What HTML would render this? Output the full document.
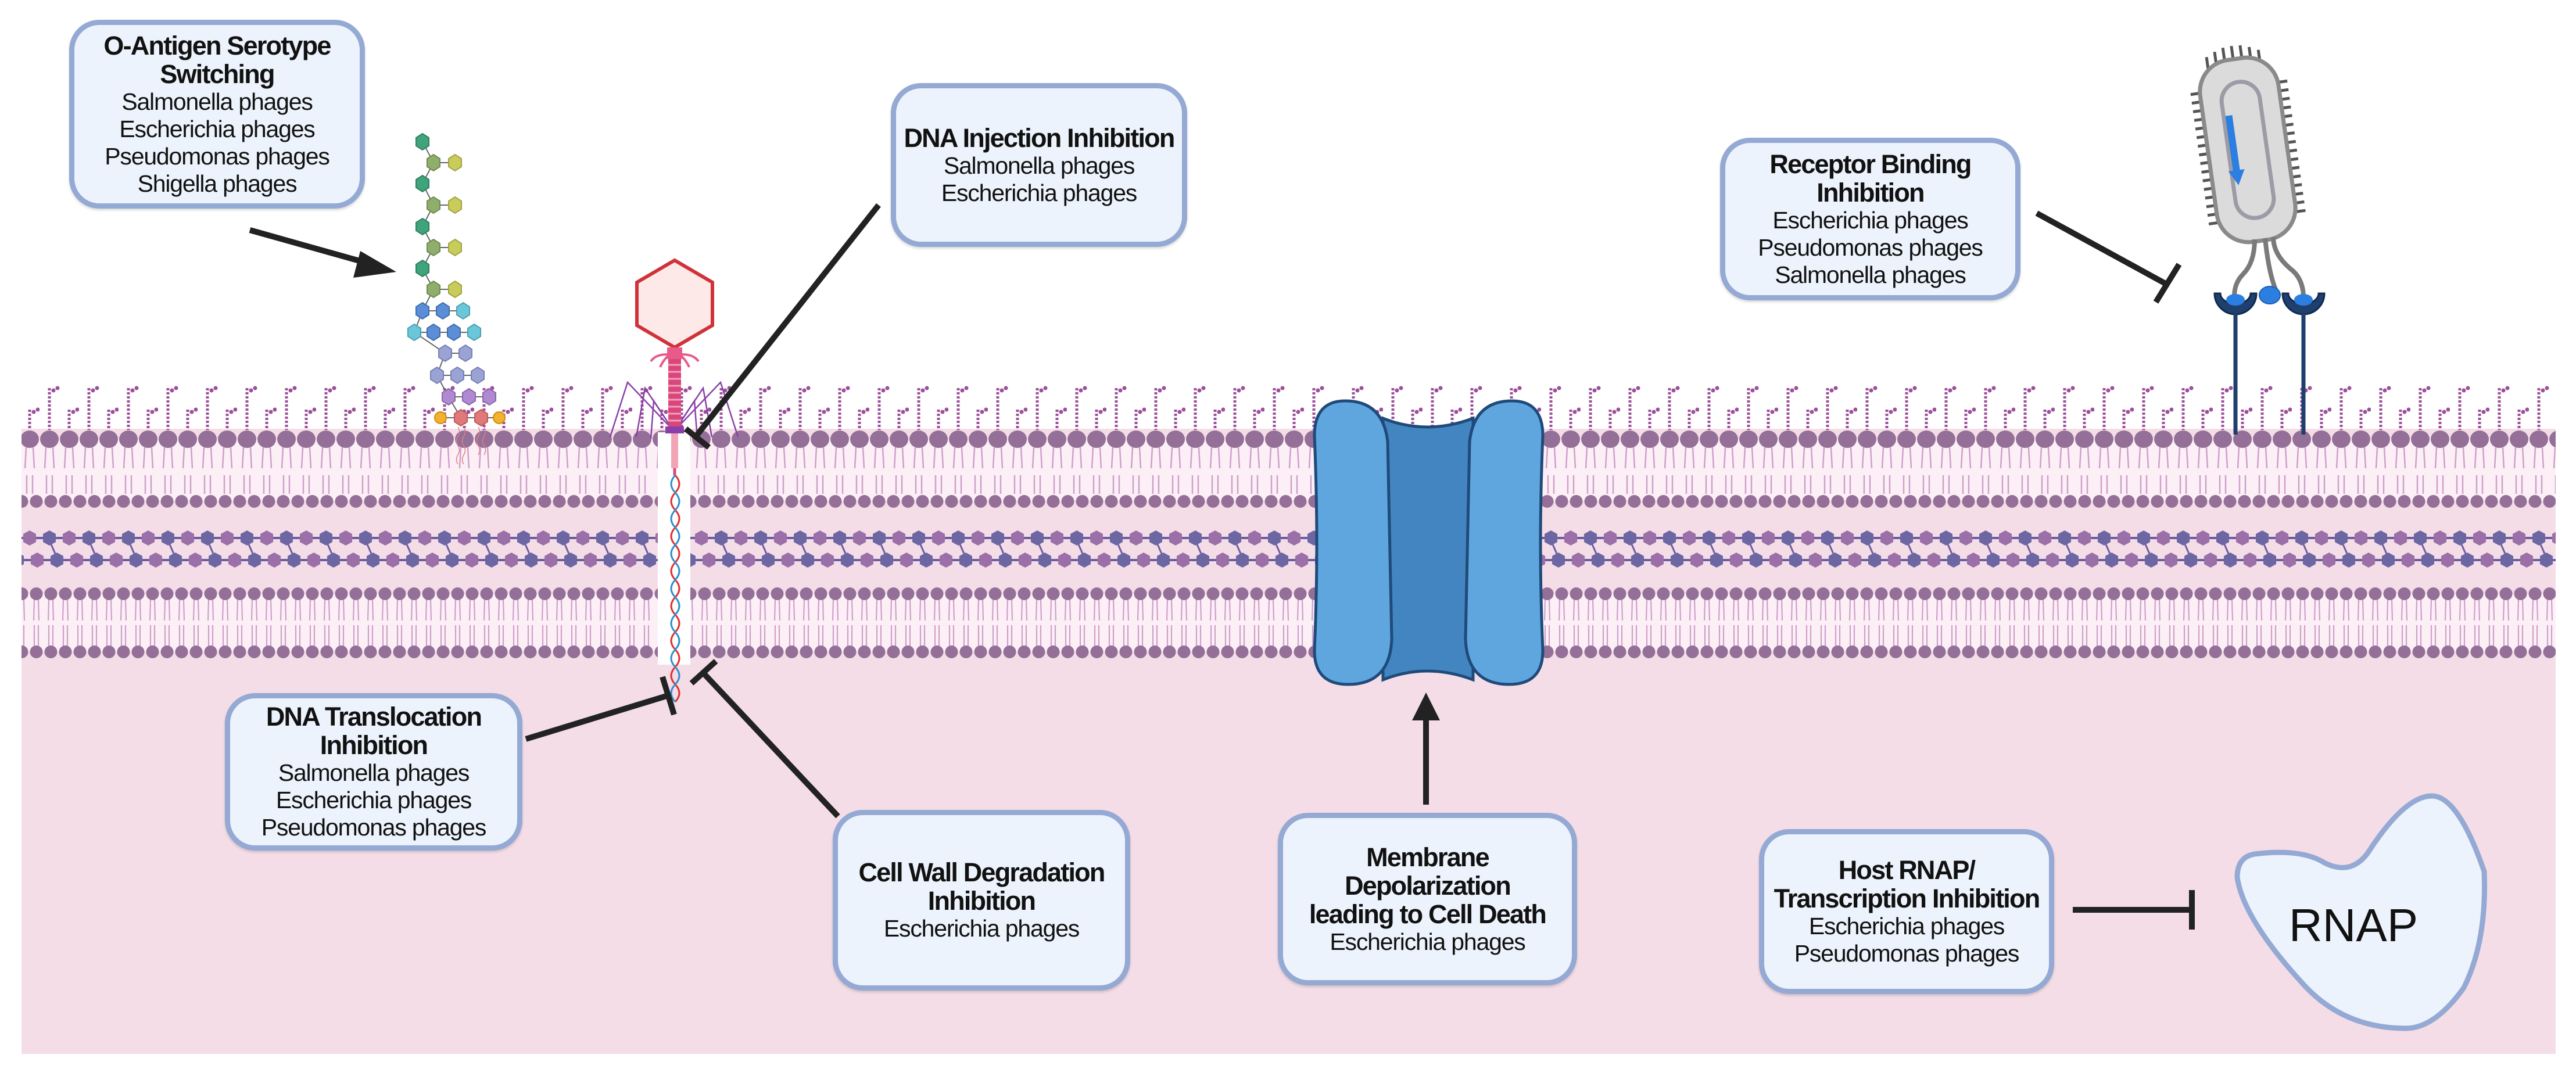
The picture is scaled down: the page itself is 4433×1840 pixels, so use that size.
<!DOCTYPE html>
<html><head><meta charset="utf-8"><style>
html,body{margin:0;padding:0;background:#fff;}
body{width:4433px;height:1840px;position:relative;overflow:hidden;font-family:"Liberation Sans",sans-serif;}
svg{position:absolute;left:0;top:0;}
.box{position:absolute;box-sizing:border-box;border:9px solid #94a9d3;background:#edf3fc;border-radius:52px;display:flex;flex-direction:column;justify-content:center;align-items:center;text-align:center;color:#111;box-shadow:0 3px 4px rgba(0,0,0,0.15);}
.t{font-weight:bold;font-size:45px;line-height:49px;letter-spacing:-1.8px;}
.s{font-size:41px;line-height:47px;letter-spacing:-1.2px;}
</style></head><body>
<svg width="4433" height="1840" viewBox="0 0 4433 1840" xmlns="http://www.w3.org/2000/svg">
<defs>
<pattern id="lps" x="0" y="0" width="68" height="1840" patternUnits="userSpaceOnUse">
 <line x1="17" y1="668" x2="17" y2="740" stroke="#9c4f9a" stroke-width="5" stroke-dasharray="4 3"/>
 <circle cx="24" cy="672" r="3.5" fill="#9c4f9a"/><circle cx="31" cy="668" r="3.5" fill="#9c4f9a"/>
 <line x1="51" y1="705" x2="51" y2="740" stroke="#9c4f9a" stroke-width="5" stroke-dasharray="4 3"/>
 <circle cx="58" cy="709" r="3.5" fill="#9c4f9a"/><circle cx="65" cy="705" r="3.5" fill="#9c4f9a"/>
</pattern>
<pattern id="omt" x="0" y="0" width="34" height="1840" patternUnits="userSpaceOnUse">
 <path d="M11 770 L9 806 M23 770 L25 806 M12 818 L12 850 M22 818 L22 850" stroke="#cf9fcb" stroke-width="2.5" fill="none"/>
 <ellipse cx="17" cy="756" rx="16" ry="15" fill="#946f97"/>
</pattern>
<pattern id="omb" x="0" y="0" width="25" height="1840" patternUnits="userSpaceOnUse">
 <circle cx="12.5" cy="863" r="11" fill="#946f97"/>
</pattern>
<pattern id="imt" x="0" y="0" width="25" height="1840" patternUnits="userSpaceOnUse">
 <path d="M9 1032 L8 1068 M16 1032 L17 1068 M9 1076 L9 1112 M16 1076 L16 1112" stroke="#cf9fcb" stroke-width="2.2" fill="none"/>
 <circle cx="12.5" cy="1022" r="11" fill="#946f97"/>
 <circle cx="12.5" cy="1122" r="11" fill="#946f97"/>
</pattern>
<pattern id="pg" x="0" y="0" width="68" height="1840" patternUnits="userSpaceOnUse">
 <line x1="0" y1="926" x2="68" y2="926" stroke="#6c5ea0" stroke-width="4"/>
 <line x1="0" y1="964" x2="68" y2="964" stroke="#6c5ea0" stroke-width="4"/>
 <line x1="17" y1="930" x2="30" y2="960" stroke="#6c5ea0" stroke-width="3"/>
 <polygon points="17,913 28,919 28,933 17,939 6,933 6,919" fill="#6c66a3"/>
 <polygon points="51,913 62,919 62,933 51,939 40,933 40,919" fill="#9b6fa8"/>
 <polygon points="30,951 41,957 41,971 30,977 19,971 19,957" fill="#6c66a3"/>
 <polygon points="64,951 75,957 75,971 64,977 53,971 53,957" fill="#9b6fa8"/>
 <polygon points="-4,951 7,957 7,971 -4,977 -15,971 -15,957" fill="#9b6fa8"/>
</pattern>
</defs>
<rect x="37" y="738" width="4361" height="1076" fill="#f4dde7"/>
<rect x="37" y="660" width="4361" height="82" fill="url(#lps)"/>
<rect x="37" y="756" width="4361" height="107" fill="#fcf0f6"/>
<rect x="37" y="1022" width="4361" height="100" fill="#fcf0f6"/>
<rect x="37" y="735" width="4361" height="120" fill="url(#omt)"/>
<rect x="37" y="850" width="4361" height="26" fill="url(#omb)"/>
<rect x="37" y="905" width="4361" height="80" fill="url(#pg)"/>
<rect x="37" y="1008" width="4361" height="128" fill="url(#imt)"/>
<rect x="1132" y="744" width="56" height="400" fill="#fff"/>
<g stroke="#666" stroke-width="2" fill="none">
<path d="M727 244 L746 280 L727 316 L746 353 L727 390 L746 426 L727 462 L746 498 L727 535 L713 572 L766 608 L752 646 L772 683 L793 719"/>
<path d="M746 280 H783 M746 353 H783 M746 426 H783 M746 498 H783 M727 535 H797 M713 572 H816 M766 608 H801 M752 646 H822 M772 683 H842 M758 719 H859"/>
</g>
<g stroke-width="2">
<g fill="#3fa37b" stroke="#2f8060">
<polygon points="727,230 738,237 738,251 727,258 716,251 716,237"/>
<polygon points="727,302 738,309 738,323 727,330 716,323 716,309"/>
<polygon points="727,376 738,383 738,397 727,404 716,397 716,383"/>
<polygon points="727,448 738,455 738,469 727,476 716,469 716,455"/>
</g>
<g fill="#8fae6c" stroke="#6f8a50">
<polygon points="746,266 757,273 757,287 746,294 735,287 735,273"/>
<polygon points="746,339 757,346 757,360 746,367 735,360 735,346"/>
<polygon points="746,412 757,419 757,433 746,440 735,433 735,419"/>
<polygon points="746,484 757,491 757,505 746,512 735,505 735,491"/>
</g>
<g fill="#c8cc5a" stroke="#a0a440">
<polygon points="783,266 794,273 794,287 783,294 772,287 772,273"/>
<polygon points="783,339 794,346 794,360 783,367 772,360 772,346"/>
<polygon points="783,412 794,419 794,433 783,440 772,433 772,419"/>
<polygon points="783,484 794,491 794,505 783,512 772,505 772,491"/>
</g>
<g fill="#5b8ed6" stroke="#3f6db0">
<polygon points="727,521 738,528 738,542 727,549 716,542 716,528"/>
<polygon points="762,521 773,528 773,542 762,549 751,542 751,528"/>
<polygon points="746,558 757,565 757,579 746,586 735,579 735,565"/>
<polygon points="781,558 792,565 792,579 781,586 770,579 770,565"/>
</g>
<g fill="#6cc6d9" stroke="#4aa0b3">
<polygon points="797,521 808,528 808,542 797,549 786,542 786,528"/>
<polygon points="713,558 724,565 724,579 713,586 702,579 702,565"/>
<polygon points="816,558 827,565 827,579 816,586 805,579 805,565"/>
</g>
<g fill="#9aa3d4" stroke="#7680b5">
<polygon points="766,594 777,601 777,615 766,622 755,615 755,601"/>
<polygon points="801,594 812,601 812,615 801,622 790,615 790,601"/>
<polygon points="752,632 763,639 763,653 752,660 741,653 741,639"/>
<polygon points="787,632 798,639 798,653 787,660 776,653 776,639"/>
<polygon points="822,632 833,639 833,653 822,660 811,653 811,639"/>
</g>
<g fill="#b08ad0" stroke="#8a66ad">
<polygon points="772,669 783,676 783,690 772,697 761,690 761,676"/>
<polygon points="807,669 818,676 818,690 807,697 796,690 796,676"/>
<polygon points="842,669 853,676 853,690 842,697 831,690 831,676"/>
</g>
<g fill="#e07a7a" stroke="#c05a5a">
<polygon points="793,705 804,712 804,726 793,733 782,726 782,712"/>
<polygon points="828,705 839,712 839,726 828,733 817,726 817,712"/>
</g>
<circle cx="758" cy="719" r="10" fill="#f2b12e" stroke="#d08a10"/>
<circle cx="859" cy="719" r="10" fill="#f2b12e" stroke="#d08a10"/>
</g>
<path d="M788 735 q5 8 0 16 t0 16 t0 16 t0 16 M798 735 q5 8 0 16 t0 16 t0 16 t0 16 M823 735 q5 8 0 16 t0 16 t0 16 M833 735 q5 8 0 16 t0 16 t0 16" stroke="#e08080" stroke-width="1.5" fill="none"/>
<g>
<path d="M1158 740 L1080 658 L1050 752 M1158 740 L1110 668 L1095 752 M1158 740 L1125 690 L1120 755 M1162 740 L1240 658 L1270 752 M1162 740 L1210 668 L1225 752 M1162 740 L1195 690 L1200 755" stroke="#8a3fa8" stroke-width="2.5" fill="none"/>
<polygon points="1161,448 1226,486 1226,560 1161,598 1096,560 1096,486" fill="#fde9e8" stroke="#d0323a" stroke-width="6"/>
<rect x="1148" y="598" width="26" height="20" fill="#e85a8a"/>
<path d="M1148 610 q-20 0 -28 12 M1174 610 q20 0 28 12 M1150 612 q-10 10 -14 20 M1172 612 q10 10 14 20" stroke="#e85a8a" stroke-width="4" fill="none"/>
<rect x="1150" y="618" width="22" height="118" fill="#d9467a"/>
<path d="M1150 628 H1172 M1150 640 H1172 M1150 652 H1172 M1150 664 H1172 M1150 676 H1172 M1150 688 H1172 M1150 700 H1172 M1150 712 H1172 M1150 724 H1172" stroke="#f4a0c0" stroke-width="3"/>
<rect x="1145" y="734" width="32" height="12" fill="#8a3fa8"/>
<rect x="1155" y="746" width="12" height="60" fill="#f0a4b6"/>
<path d="M1161 806 l0 12" stroke="#d9467a" stroke-width="5"/>
<path d="M1158 818 q14 15 0 30 t0 30 t0 30 t0 30 t0 30 t0 30 t0 30 t0 30 t0 30 t0 30 t0 30 t0 30 t0 30" stroke="#e03030" stroke-width="3" fill="none" transform="translate(4,0)"/>
<path d="M1158 818 q-14 15 0 30 t0 30 t0 30 t0 30 t0 30 t0 30 t0 30 t0 30 t0 30 t0 30 t0 30 t0 30 t0 30" stroke="#2f8fce" stroke-width="3" fill="none" transform="translate(4,0)"/>
</g>
<g stroke="#1f4a7a" stroke-width="5">
<path d="M2380 720 Q2455 750 2535 720 L2535 1170 Q2455 1140 2380 1170 Z" fill="#4285c0"/>
<path d="M2315 690 Q2380 690 2388 760 L2395 1100 Q2392 1178 2320 1178 Q2262 1178 2262 1120 Q2270 940 2262 750 Q2262 690 2315 690 Z" fill="#5fa6df"/>
<path d="M2602 690 Q2537 690 2529 760 L2522 1100 Q2525 1178 2597 1178 Q2655 1178 2655 1120 Q2647 940 2655 750 Q2655 690 2602 690 Z" fill="#5fa6df"/>
</g>
<g transform="rotate(-8 3868 258)">
<g stroke="#555" stroke-width="5">
<path d="M3800 150 h-16 M3800 165 h-16 M3800 180 h-16 M3800 195 h-16 M3800 210 h-16 M3800 225 h-16 M3800 240 h-16 M3800 255 h-16 M3800 270 h-16 M3800 285 h-16 M3800 300 h-16 M3800 315 h-16 M3800 330 h-16 M3800 345 h-16 M3800 360 h-16 M3800 375 h-16"/>
<path d="M3936 150 h16 M3936 165 h16 M3936 180 h16 M3936 195 h16 M3936 210 h16 M3936 225 h16 M3936 240 h16 M3936 255 h16 M3936 270 h16 M3936 285 h16 M3936 300 h16 M3936 315 h16 M3936 330 h16 M3936 345 h16 M3936 360 h16 M3936 375 h16"/>
<path d="M3820 110 v-20 M3835 105 v-22 M3850 102 v-24 M3865 101 v-24 M3880 102 v-24 M3895 105 v-22 M3910 110 v-20"/>
</g>
<rect x="3800" y="100" width="136" height="316" rx="55" fill="#dcdbdc" stroke="#8a8a8a" stroke-width="7"/>
<rect x="3835" y="140" width="66" height="236" rx="33" fill="none" stroke="#9d9ca6" stroke-width="7"/>
<polygon points="3838,195 3850,195 3850,290 3858,290 3844,316 3830,290 3838,290" fill="#2a7fe0"/>
</g>
<path d="M3880 412 q0 40 -20 60 q-15 15 -15 38 M3898 410 q5 50 15 80 q5 15 10 20 M3912 408 q0 30 30 55 q20 15 22 45" stroke="#7a7a7a" stroke-width="8" fill="none"/>
<g fill="#1f3f6e" stroke="#102b50" stroke-width="3">
<path d="M3811 505 a36 36 0 0 0 72 0 l-10 0 a26 18 0 0 1 -52 0 z"/>
<path d="M3928 505 a36 36 0 0 0 72 0 l-10 0 a26 18 0 0 1 -52 0 z"/>
</g>
<ellipse cx="3847" cy="516" rx="16" ry="10" fill="#2a7fe0"/>
<ellipse cx="3964" cy="516" rx="16" ry="10" fill="#2a7fe0"/>
<ellipse cx="3906" cy="508" rx="18" ry="15" fill="#2a7fe0" stroke="#1f5fb0" stroke-width="2"/>
<path d="M3847 540 V748 M3964 540 V748" stroke="#1f3f6e" stroke-width="7"/>
<path d="M3880 1470 Q3960 1460 4000 1485 Q4050 1510 4080 1460 Q4140 1370 4185 1370 Q4230 1370 4275 1500 Q4280 1620 4240 1700 Q4190 1770 4140 1770 Q4030 1770 3960 1690 Q3860 1580 3850 1510 Q3850 1475 3880 1470 Z" fill="#edf3fc" stroke="#94a9d3" stroke-width="9"/>
<text x="4050" y="1620" font-family="Liberation Sans, sans-serif" font-size="80" text-anchor="middle" fill="#111">RNAP</text>
<g stroke="#222" stroke-width="10" fill="none">
<line x1="430" y1="396" x2="640" y2="455"/>
<line x1="1512" y1="353" x2="1200" y2="748"/>
<line x1="1180" y1="738" x2="1220" y2="770"/>
<line x1="3505" y1="367" x2="3730" y2="490"/>
<line x1="3710" y1="520" x2="3750" y2="455"/>
<line x1="905" y1="1272" x2="1150" y2="1197"/>
<line x1="1140" y1="1165" x2="1160" y2="1230"/>
<line x1="1442" y1="1405" x2="1210" y2="1158"/>
<line x1="1190" y1="1176" x2="1232" y2="1138"/>
<line x1="2454" y1="1385" x2="2454" y2="1230"/>
<line x1="3567" y1="1566" x2="3772" y2="1566"/>
<line x1="3772" y1="1532" x2="3772" y2="1600"/>
</g>
<polygon points="682,468 620,432 608,478" fill="#222"/>
<polygon points="2454,1192 2430,1240 2478,1240" fill="#222"/>
</svg>

<div class="box" style="left:119px;top:34px;width:509px;height:325px;"><div class="t">O-Antigen Serotype<br>Switching</div><div class="s">Salmonella phages<br>Escherichia phages<br>Pseudomonas phages<br>Shigella phages</div></div>
<div class="box" style="left:1533px;top:143px;width:510px;height:282px;"><div class="t">DNA Injection Inhibition</div><div class="s">Salmonella phages<br>Escherichia phages</div></div>
<div class="box" style="left:2960px;top:237px;width:517px;height:280px;"><div class="t">Receptor Binding<br>Inhibition</div><div class="s">Escherichia phages<br>Pseudomonas phages<br>Salmonella phages</div></div>
<div class="box" style="left:387px;top:1193px;width:512px;height:271px;"><div class="t">DNA Translocation<br>Inhibition</div><div class="s">Salmonella phages<br>Escherichia phages<br>Pseudomonas phages</div></div>
<div class="box" style="left:1433px;top:1394px;width:512px;height:311px;"><div class="t">Cell Wall Degradation<br>Inhibition</div><div class="s">Escherichia phages</div></div>
<div class="box" style="left:2199px;top:1399px;width:515px;height:297px;"><div class="t">Membrane<br>Depolarization<br>leading to Cell Death</div><div class="s">Escherichia phages</div></div>
<div class="box" style="left:3027px;top:1427px;width:508px;height:284px;"><div class="t">Host RNAP/<br>Transcription Inhibition</div><div class="s">Escherichia phages<br>Pseudomonas phages</div></div>
</body></html>
